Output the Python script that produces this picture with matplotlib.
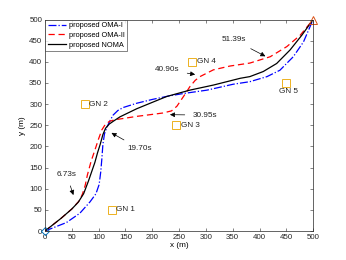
import matplotlib
matplotlib.use("Agg")
import matplotlib.pyplot as plt

# Trajectories (x, y) in metres
oma1_x = [0, 20, 40, 65, 84, 95, 101, 104, 106, 108, 111, 116, 121, 127, 136, 146, 171, 200, 230, 258, 302, 351, 382, 414, 438, 463, 482, 500]
oma1_y = [0, 10, 20, 42, 69, 88, 110, 140, 170, 205, 230, 247, 260, 274, 285, 292, 302, 311, 319, 325, 333, 347, 353, 365, 380, 412, 447, 500]

oma2_x = [0, 15, 30, 50, 65, 70, 75, 79, 86, 93, 100, 106, 112, 120, 130, 146, 171, 196, 220, 236, 246, 254, 262, 270, 280, 289, 314, 345, 382, 420, 451, 476, 500]
oma2_y = [0, 15, 30, 52, 73, 88, 108, 132, 165, 191, 218, 239, 251, 259, 263, 266, 271, 275, 279, 284, 295, 310, 325, 341, 356, 365, 381, 390, 397, 412, 436, 463, 500]

noma_x = [0, 15, 30, 50, 62, 72, 81, 87, 93, 98, 103, 108, 113, 120, 128, 140, 171, 196, 227, 270, 314, 364, 382, 407, 432, 457, 479, 500]
noma_y = [0, 15, 30, 52, 68, 88, 118, 140, 162, 185, 205, 228, 243, 253, 260, 270, 289, 302, 318, 333, 345, 361, 365, 377, 396, 428, 463, 500]

gn_x = [125, 75, 245, 275, 450]
gn_y = [50, 300, 250, 400, 350]
gn_labels = ["GN 1", "GN 2", "GN 3", "GN 4", "GN 5"]

ann_text = ["6.73s", "19.70s", "30.95s", "40.90s", "51.39s"]
ann_text_xy = [(40, 134), (177, 194), (299, 274), (227, 381), (352, 452)]
ann_tip_xy = [(53, 85), (124, 232), (233, 275), (280, 370), (411, 413)]

fs = 5.9
fs_tick = 5.7
fs_leg = 5.3
plt.rcParams['font.family'] = ['Liberation Sans', 'DejaVu Sans']
fig = plt.figure(figsize=(3.46, 2.60), dpi=100)
ax = fig.add_axes([0.130, 0.1115, 0.775, 0.8135])

ax.plot(oma1_x, oma1_y, color='blue', ls='-.', lw=0.9, label='proposed OMA-I')
ax.plot(oma2_x, oma2_y, color='red', ls=(0, (5, 3)), lw=0.9, label='proposed OMA-II')
ax.plot(noma_x, noma_y, color='black', ls='-', lw=0.9, label='proposed NOMA')

ax.plot(gn_x, gn_y, ls='none', marker='s', ms=6, mfc='none', mec='#EDB120', mew=0.7)
for x, y, t in zip(gn_x, gn_y, gn_labels):
    if t == "GN 5":
        ax.text(x + 5, y - 12, t, fontsize=fs, ha='center', va='top', color='#222222')
    else:
        ax.text(x + 8, y, t, fontsize=fs, ha='left', va='center', color='#222222')

ax.plot([0], [0], ls='none', marker='D', ms=4, mfc='none', mec='#0072BD', mew=0.7, clip_on=False)
ax.plot([500], [500], ls='none', marker='^', ms=6, mfc='none', mec='#D95319', mew=0.7, clip_on=False)

for t, txy, tip in zip(ann_text, ann_text_xy, ann_tip_xy):
    ax.annotate(t, xy=tip, xytext=txy, fontsize=fs, ha='center', va='center', color='#222222',
                arrowprops=dict(arrowstyle='-|>', color='black', lw=0.5, mutation_scale=7,
                                shrinkA=4, shrinkB=0))

ax.set_xlim(0, 500)
ax.set_ylim(0, 500)
ax.set_xticks(range(0, 501, 50))
ax.set_yticks(range(0, 501, 50))
ax.tick_params(direction='in', top=True, right=True, labelsize=fs_tick, length=2.5, width=0.4,
               colors='#262626', pad=2)
for s in ax.spines.values():
    s.set_linewidth(0.5)
    s.set_color('#262626')
ax.set_xlabel('x (m)', fontsize=fs, labelpad=1)
ax.set_ylabel('y (m)', fontsize=fs, labelpad=2)

leg = ax.legend(loc='upper left', fontsize=fs_leg, frameon=True, fancybox=False, edgecolor='#262626',
                borderpad=0.35, labelspacing=0.35, handlelength=2.45, handletextpad=0.4,
                borderaxespad=0)
leg.get_frame().set_linewidth(0.5)

fig.savefig('out.png', dpi=100)
